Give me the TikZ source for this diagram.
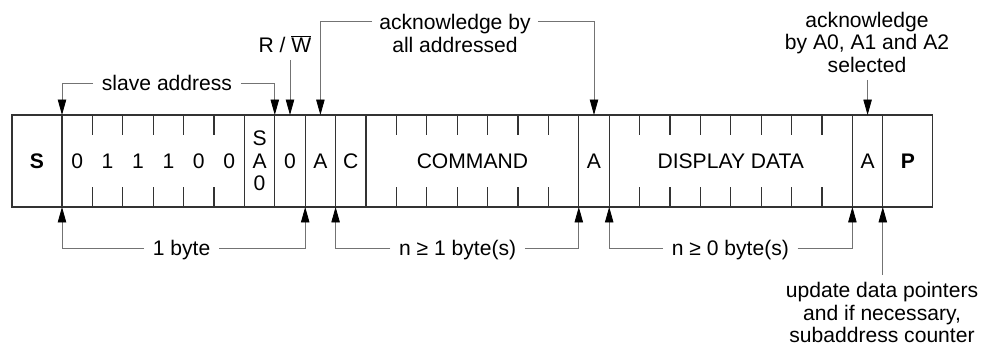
\documentclass[tikz,border=0pt]{standalone}
\usepackage{fontspec}
\setmainfont{Liberation Sans}
\usetikzlibrary{positioning,arrows.meta}
\newcommand{\bitw}{0.76cm}
\begin{document}
\begin{tikzpicture}[font=\fontsize{15}{16}\selectfont,
      >={Triangle[length=11pt,width=6pt,color=black]},
      cell/.style={draw=black!80, line width=0.8pt, minimum height=2.3cm, minimum width=\bitw, inner sep=0pt, outer sep=0pt, align=center},
      tick/.style={draw=black!80, line width=0.8pt},
      guide/.style={draw=black!55, line width=0.6pt},
      tag/.style={inner xsep=6pt, inner ysep=0pt, text height=10.7pt, text depth=0pt},
      note/.style={align=center, inner xsep=5pt, inner ysep=5pt}]
    \useasboundingbox (0,0) rectangle (24.525,8.725);
    % frame
    \node[cell, minimum width=1.25cm] (s) at (0.925,4.7) {\textbf{S}};
    \node[cell, minimum width=6*\bitw, right=0pt of s] (addr) {};
    \node[cell, right=0pt of addr] (sa)   {S\\A\\0};
    \node[cell, right=0pt of sa]   (rw)   {0};
    \node[cell, right=0pt of rw]   (ack1) {A};
    \node[cell, right=0pt of ack1] (c)    {C};
    \node[cell, minimum width=7*\bitw, right=0pt of c] (cmd) {COMMAND};
    \node[cell, right=0pt of cmd]  (ack2) {A};
    \node[cell, minimum width=8*\bitw, right=0pt of ack2] (data) {DISPLAY DATA};
    \node[cell, right=0pt of data] (ack3) {A};
    \node[cell, minimum width=1.25cm, right=0pt of ack3] (p) {\textbf{P}};
    \foreach \f/\n in {addr/5, cmd/6, data/7}
      \foreach \k in {1,...,\n} {
        \draw[tick] ([xshift=\k*\bitw]\f.north west) -- ++(0,-0.5);
        \draw[tick] ([xshift=\k*\bitw]\f.south west) -- ++(0,0.5);
      }
    \foreach \b [count=\k] in {0,1,1,1,0,0}
      \node (bit\k) at ([xshift=(\k-0.5)*\bitw]addr.west) {\b};
    % upper notes
    \node[tag] (lAddr) at (4.175,6.65) {slave address};
    \draw[guide,->] (lAddr.west) -| (addr.north west);
    \draw[guide,->] (lAddr.east) -| (sa.north east);
    \node[note, anchor=south] (lRW) at (7.125,7.225) {R / $\overline{\mbox{W}}$};
    \draw[guide,->] (rw.north |- lRW.south) -- (rw.north);
    \node[note, anchor=north, inner ysep=0pt] (lAll) at (11.375,8.375) {acknowledge by\\all addressed};
    \draw[guide,->] ([yshift=-5.4pt]lAll.north west) -| (ack1.north);
    \draw[guide,->] ([yshift=-5.4pt]lAll.north east) -| (ack2.north);
    \node[note, anchor=south] (lSel) at (21.675,6.725) {acknowledge\\by A0, A1 and A2\\selected};
    \draw[guide,->] (ack3.north |- lSel.south) -- (ack3.north);
    % lower notes
    \node[tag] (lByte) at (4.54,2.525) {1 byte};
    \draw[guide,->] (lByte.west) -| (addr.south west);
    \draw[guide,->] (lByte.east) -| (ack1.south west);
    \node[tag] (lCmdN) at (11.44,2.525) {n ≥ 1 byte(s)};
    \draw[guide,->] (lCmdN.west) -| (c.south west);
    \draw[guide,->] (lCmdN.east) -| (ack2.south west);
    \node[tag] (lDataN) at (18.26,2.525) {n ≥ 0 byte(s)};
    \draw[guide,->] (lDataN.west) -| (data.south west);
    \draw[guide,->] (lDataN.east) -| (ack3.south west);
    \node[note, anchor=north] (lUpd) at (22.05,1.85) {update data pointers\\and if necessary,\\subaddress counter};
    \draw[guide,->] (p.south west |- lUpd.north) -- (p.south west);
  \end{tikzpicture}
\end{document}
